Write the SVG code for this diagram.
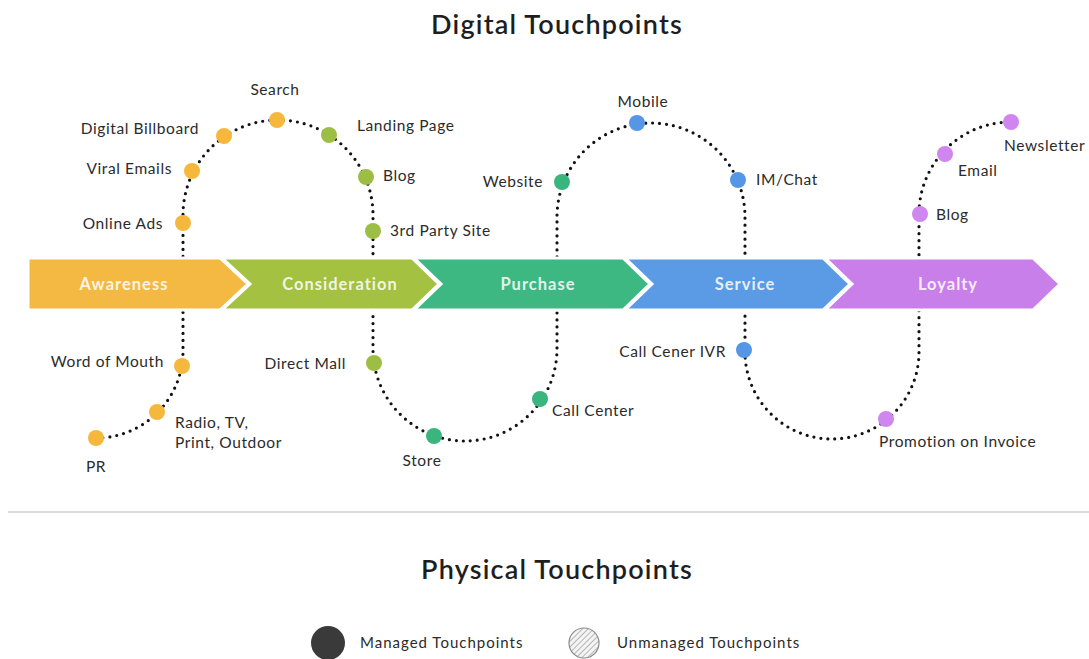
<svg xmlns="http://www.w3.org/2000/svg" width="1089" height="659" viewBox="0 0 1089 659">
<style>
.title{font-family:Lato,"Open Sans",sans-serif;font-size:27px;font-weight:600;fill:#1e1e1e;text-anchor:middle;letter-spacing:1.2px}
.lbl{font-family:Lato,"Open Sans",sans-serif;font-size:15.5px;fill:#2b2b2b;letter-spacing:0.6px}
.end{text-anchor:end}
.mid{text-anchor:middle}
.stage{font-family:Lato,"Open Sans",sans-serif;font-size:16.5px;font-weight:700;fill:#ffffff;fill-opacity:0.85;text-anchor:middle;letter-spacing:1px}
.chev{stroke:#ffffff;stroke-width:3;stroke-linejoin:miter}
.dotline{fill:none;stroke:#111;stroke-width:3.2;stroke-linecap:round;stroke-dasharray:0 7}
.y{fill:#F5B83D}.g{fill:#9DBE45}.t{fill:#3BB57E}.b{fill:#5596E6}.p{fill:#CF86EE}
.leg{font-family:Lato,"Open Sans",sans-serif;font-size:15px;fill:#2b2b2b;letter-spacing:1px}
</style>
<defs>
<pattern id="hatch" patternUnits="userSpaceOnUse" width="4" height="4" patternTransform="rotate(45)">
<rect width="4" height="4" fill="#f4f4f4"/>
<line x1="0" y1="0" x2="0" y2="4" stroke="#9a9a9a" stroke-width="1.4"/>
</pattern>
</defs>
<rect width="1089" height="659" fill="#ffffff"/>
<text class="title" x="557" y="34">Digital Touchpoints</text>

<g id="connectors">
<path class="dotline" d="M96,438 A87,87 0 0 0 183,350 L183,215 A95,95 0 0 1 373,215 L373,349 A92,92 0 0 0 557,349 L557,217 A94,94 0 0 1 745,217 L745,352 A87,87 0 0 0 919,352 L919,214 A92,92 0 0 1 1011,122"/>
</g>

<g id="stages">
<g id="awareness"><path class="chev" fill="#F4B942" d="M28,258 L220,258 L248,284 L220,310 L28,310 Z"/><text class="stage" x="124" y="290">Awareness</text></g>
<g id="consideration"><path class="chev" fill="#A4C142" d="M222,258 L412,258 L439,284 L412,310 L222,310 L250,284 Z"/><text class="stage" x="340" y="290">Consideration</text></g>
<g id="purchase"><path class="chev" fill="#3DB882" d="M414,258 L623,258 L650,284 L623,310 L414,310 L441,284 Z"/><text class="stage" x="538" y="290">Purchase</text></g>
<g id="service"><path class="chev" fill="#5B9BE6" d="M625,258 L823,258 L850,284 L823,310 L625,310 L652,284 Z"/><text class="stage" x="745" y="290">Service</text></g>
<g id="loyalty"><path class="chev" fill="#C97FEA" d="M825,258 L1033,258 L1060,284 L1033,310 L825,310 L852,284 Z"/><text class="stage" x="948" y="290">Loyalty</text></g>
</g>

<g id="n-pr"><circle class="y" cx="96" cy="438" r="8"/><text class="lbl mid" x="96" y="472">PR</text></g>
<g id="n-radio"><circle class="y" cx="157" cy="412" r="8"/><text class="lbl" x="175" y="428">Radio, TV,</text><text class="lbl" x="175" y="448">Print, Outdoor</text></g>
<g id="n-wom"><circle class="y" cx="182" cy="366" r="8"/><text class="lbl end" x="164" y="367">Word of Mouth</text></g>
<g id="n-onlineads"><circle class="y" cx="183" cy="223" r="8"/><text class="lbl end" x="163" y="229">Online Ads</text></g>
<g id="n-viral"><circle class="y" cx="192" cy="171" r="8"/><text class="lbl end" x="172" y="174">Viral Emails</text></g>
<g id="n-billboard"><circle class="y" cx="224" cy="136" r="8"/><text class="lbl end" x="199" y="134">Digital Billboard</text></g>
<g id="n-search"><circle class="y" cx="277" cy="120" r="8"/><text class="lbl mid" x="275" y="95">Search</text></g>
<g id="n-landing"><circle class="g" cx="329" cy="135" r="8"/><text class="lbl" x="357" y="131">Landing Page</text></g>
<g id="n-blog1"><circle class="g" cx="366" cy="177" r="8"/><text class="lbl" x="383" y="181">Blog</text></g>
<g id="n-3rdparty"><circle class="g" cx="373" cy="231" r="8"/><text class="lbl" x="390" y="236">3rd Party Site</text></g>
<g id="n-directmail"><circle class="g" cx="374" cy="363" r="8"/><text class="lbl end" x="346" y="369">Direct Mall</text></g>
<g id="n-store"><circle class="t" cx="434" cy="436" r="8"/><text class="lbl mid" x="422" y="466">Store</text></g>
<g id="n-callcenter"><circle class="t" cx="540" cy="399" r="8"/><text class="lbl" x="552" y="416">Call Center</text></g>
<g id="n-website"><circle class="t" cx="562" cy="182" r="8"/><text class="lbl end" x="543" y="187">Website</text></g>
<g id="n-mobile"><circle class="b" cx="637" cy="123" r="8"/><text class="lbl mid" x="643" y="107">Mobile</text></g>
<g id="n-imchat"><circle class="b" cx="738" cy="180" r="8"/><text class="lbl" x="756" y="185">IM/Chat</text></g>
<g id="n-ivr"><circle class="b" cx="744" cy="350" r="8"/><text class="lbl end" x="726" y="357">Call Cener IVR</text></g>
<g id="n-promo"><circle class="p" cx="886" cy="419" r="8"/><text class="lbl" x="879" y="447">Promotion on Invoice</text></g>
<g id="n-blog2"><circle class="p" cx="920" cy="214" r="8"/><text class="lbl" x="936" y="220">Blog</text></g>
<g id="n-email"><circle class="p" cx="945" cy="154" r="8"/><text class="lbl" x="958" y="176">Email</text></g>
<g id="n-newsletter"><circle class="p" cx="1011" cy="122" r="8"/><text class="lbl" x="1004" y="151">Newsletter</text></g>

<line x1="8" y1="512" x2="1089" y2="512" stroke="#cfcfcf" stroke-width="1.5"/>
<text class="title" x="557" y="579">Physical Touchpoints</text>

<g id="legend">
<g id="leg-managed"><circle cx="328" cy="643" r="17" fill="#3a3a3a"/><text class="leg" x="360" y="648">Managed Touchpoints</text></g>
<g id="leg-unmanaged"><circle cx="584" cy="643" r="15" fill="url(#hatch)" stroke="#8a8a8a" stroke-width="1.2"/><text class="leg" x="617" y="648">Unmanaged Touchpoints</text></g>
</g>
</svg>
